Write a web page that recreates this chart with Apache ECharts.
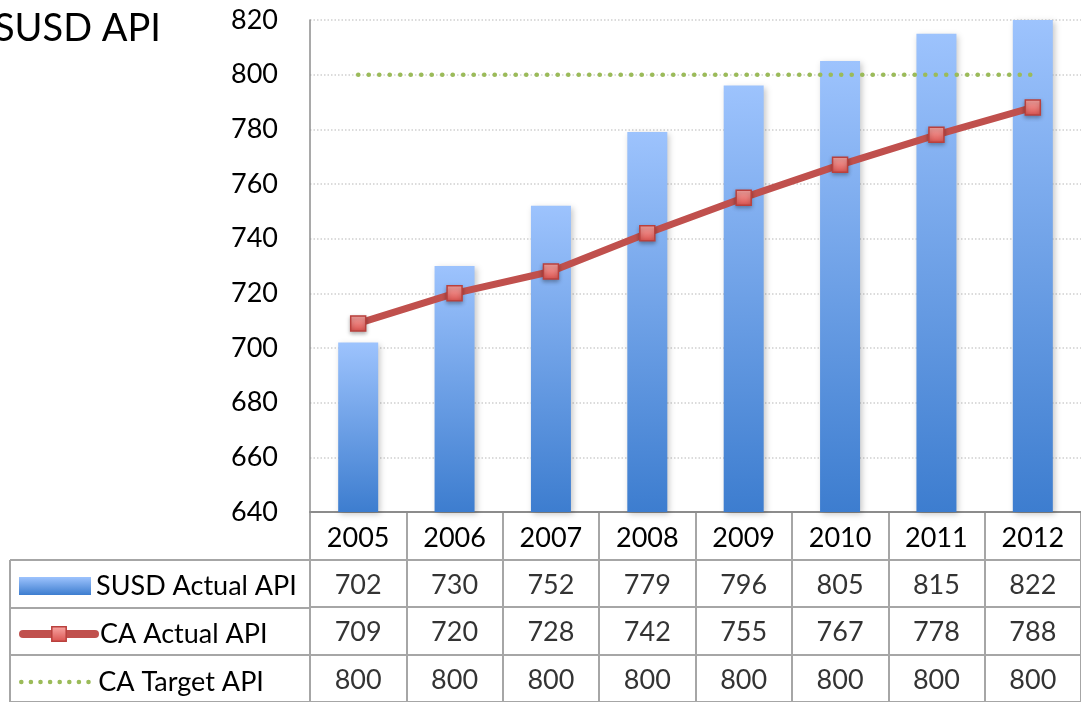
<!DOCTYPE html>
<html>
<head>
<meta charset="utf-8">
<script src="https://cdn.jsdelivr.net/npm/echarts@6/dist/echarts.min.js"></script>
<style>html,body{margin:0;padding:0;background:#fff}#c{width:1081px;height:702px}</style>
</head>
<body>
<div id="c"></div>
<script>
const years = ['2005','2006','2007','2008','2009','2010','2011','2012'];
const susdActual = [702, 730, 752, 779, 796, 805, 815, 822];
const caActual = [709, 720, 728, 742, 755, 767, 778, 788];
const caTarget = [800, 800, 800, 800, 800, 800, 800, 800];
const seriesNames = ['SUSD Actual API', 'CA Actual API', 'CA Target API'];
const yTicks = { min: 640, max: 820, interval: 20 };
const tableRows = ['year', 'SUSD', 'CA', 'Target'];

const FONT = 'Lato';
const gridLine = '#a6a6a6';
const red = '#c0504d';
const green = '#9bbb59';

const tableData = [];
[susdActual, caActual, caTarget].forEach((arr, r) => {
  arr.forEach((v, i) => tableData.push([i, tableRows[r + 1], v]));
});

const markerFill = new echarts.graphic.LinearGradient(0, 0, 0, 1, [
  { offset: 0, color: '#f9a9a6' },
  { offset: 1, color: '#d9524e' }
]);

const legendBase = {
  orient: 'vertical', left: 14, itemWidth: 72, itemHeight: 18,
  textStyle: { fontFamily: FONT, fontSize: 27, color: '#000', lineHeight: 30 },
  selectedMode: false
};

const chart = echarts.init(document.getElementById('c'), null, { renderer: 'canvas' });
chart.setOption({
  animation: false,
  textStyle: { fontFamily: FONT, color: '#000' },
  title: {
    text: 'SUSD API', left: -11, top: 5,
    textStyle: { fontFamily: FONT, fontSize: 38, fontWeight: 'normal', color: '#000' }
  },
  legend: [
    Object.assign({}, legendBase, { top: 566, data: [{ name: seriesNames[0], icon: 'rect' }] }),
    Object.assign({}, legendBase, {
      top: 614, data: [seriesNames[1]],
      lineStyle: { color: red, width: 8, cap: 'round' },
      itemStyle: { color: markerFill, borderColor: '#b9403d', borderWidth: 1.5 }
    }),
    Object.assign({}, legendBase, {
      top: 662, data: [seriesNames[2]],
      lineStyle: { color: green, width: 4.5, type: [0.1, 9.5], cap: 'round' },
      itemStyle: { opacity: 0 }
    })
  ],
  grid: [
    { left: 310, right: -5, top: 20, bottom: 190 },
    { left: 310, right: -5, top: 512, height: 192 },
    { left: 10, width: 300, top: 560, height: 144 }
  ],
  xAxis: [
    {
      gridIndex: 0, type: 'category', data: years,
      axisLine: { show: true, lineStyle: { color: '#8c8c8c', width: 2 } },
      axisTick: { show: false },
      axisLabel: { fontSize: 27, color: '#000', margin: 13, fontFamily: FONT }
    },
    {
      gridIndex: 1, type: 'category', data: years,
      axisLine: { show: false }, axisTick: { show: false }, axisLabel: { show: false },
      splitLine: { show: true, lineStyle: { color: gridLine, width: 2 } }
    },
    {
      gridIndex: 2, type: 'value', min: 0, max: 1, interval: 1,
      axisLine: { show: false }, axisTick: { show: false }, axisLabel: { show: false },
      splitLine: { show: true, lineStyle: { color: gridLine, width: 2 } }
    }
  ],
  yAxis: [
    {
      gridIndex: 0, type: 'value', min: yTicks.min, max: yTicks.max, interval: yTicks.interval,
      axisLine: { show: true, lineStyle: { color: '#8c8c8c', width: 1.5 } },
      axisTick: { show: false },
      axisLabel: { fontSize: 27, color: '#000', margin: 32, fontFamily: FONT },
      splitLine: { show: true, lineStyle: { color: '#cfcfcf', width: 1.5, type: [1.5, 2] } }
    },
    {
      gridIndex: 1, type: 'category', data: tableRows, inverse: true,
      axisLine: { show: false }, axisTick: { show: false }, axisLabel: { show: false },
      splitLine: { show: true, lineStyle: { color: gridLine, width: 2 } }
    },
    {
      gridIndex: 2, type: 'category', data: tableRows.slice(1), inverse: true,
      axisLine: { show: false }, axisTick: { show: false }, axisLabel: { show: false },
      splitLine: { show: true, lineStyle: { color: gridLine, width: 2 } }
    }
  ],
  series: [
    {
      name: seriesNames[0], type: 'bar', xAxisIndex: 0, yAxisIndex: 0,
      data: susdActual, barWidth: 40,
      itemStyle: {
        color: new echarts.graphic.LinearGradient(0, 0, 0, 1, [
          { offset: 0, color: '#9dc3fd' },
          { offset: 1, color: '#3d7dcf' }
        ]),
        shadowBlur: 6, shadowColor: 'rgba(0,0,0,0.22)', shadowOffsetX: 2, shadowOffsetY: 2
      }
    },
    {
      name: seriesNames[1], type: 'line', xAxisIndex: 0, yAxisIndex: 0,
      data: caActual, symbol: 'rect', symbolSize: 15,
      lineStyle: { color: red, width: 7 },
      itemStyle: {
        color: markerFill,
        borderColor: '#b9403d', borderWidth: 1.5,
        shadowBlur: 4, shadowColor: 'rgba(0,0,0,0.3)', shadowOffsetY: 2
      },
      z: 3
    },
    {
      name: seriesNames[2], type: 'line', xAxisIndex: 0, yAxisIndex: 0,
      data: caTarget, symbol: 'none',
      lineStyle: { color: green, width: 4.5, type: [0.1, 10.4], cap: 'round' },
      itemStyle: { color: green },
      z: 2
    },
    {
      type: 'scatter', xAxisIndex: 1, yAxisIndex: 1,
      data: tableData, symbolSize: 1,
      itemStyle: { color: 'rgba(0,0,0,0)' },
      label: {
        show: true, position: 'inside', fontSize: 27, color: '#000', fontFamily: FONT,
        offset: [0, 2],
        formatter: p => String(p.value[2])
      },
      silent: true
    }
  ]
});
</script>
</body>
</html>
